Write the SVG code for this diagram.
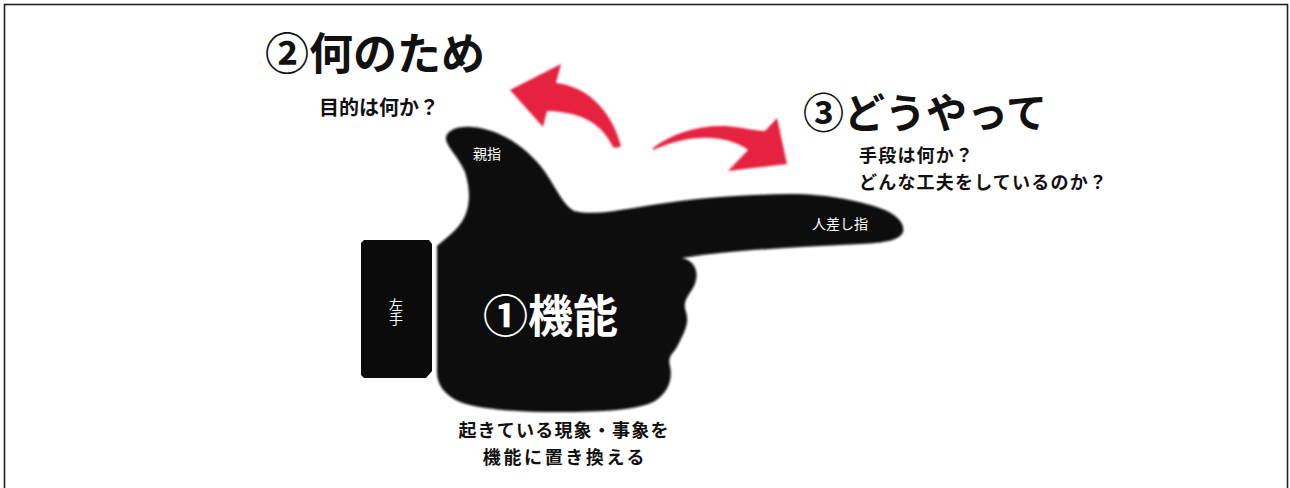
<svg xmlns="http://www.w3.org/2000/svg" width="1290" height="488" viewBox="0 0 1290 488">
  <style>
    .jp { font-family: "Noto Sans CJK JP", "Noto Sans", sans-serif; font-weight: 700; }
    .title { fill: #111; }
    .sub { font-size: 20px; fill: #111; }
    .small { font-size: 18px; letter-spacing: 1.2px; fill: #111; }
    .tag { font-size: 14px; font-weight: 400; fill: #fff; }
    .silhouette { fill: #0b0b0b; }
    .arrow { fill: #e6233f; }
  </style>
  <defs>
    <filter id="soft" x="-5%" y="-5%" width="110%" height="110%">
      <feGaussianBlur stdDeviation="0.9"/>
    </filter>
    <filter id="softer" x="-10%" y="-10%" width="120%" height="120%">
      <feGaussianBlur stdDeviation="1.2"/>
    </filter>
  </defs>

  <rect x="0" y="0" width="1290" height="488" fill="#fff"/>
  <!-- frame -->
  <rect x="4.5" y="4.5" width="1283" height="500" fill="none" stroke="#222" stroke-width="1.6"/>

  <!-- left hand block -->
  <g id="left-hand">
    <path class="silhouette" d="M364,240 L429,240 L432,244 L432,371 L426,378 L364,378 L361,375 L361,243 Z"/>
    <text class="jp tag" x="396" y="298" writing-mode="tb" style="writing-mode: vertical-rl">左手</text>
  </g>

  <!-- pointing hand: palm, thumb and index finger -->
  <g id="hand">
    <path class="silhouette" filter="url(#soft)" d="M437,246
      C446,238 458,230 464,218 C471,204 470,188 465,172 C459,158 448,148 446,140
      C445,131 456,126 472,127 C500,129 528,148 545,172 C556,188 563,205 574,211
      C590,215 610,212 640,207 C680,200 730,195 790,194 C830,194 865,202 885,210
      C898,216 905,224 903,232 C900,240 885,243 860,244 C800,247 730,250 682,258
      C695,261 700,272 694,286 C689,296 682,300 686,312 C690,324 683,334 678,345
      C674,353 667,356 670,366 C673,379 668,393 655,401 C640,410 600,412 560,412
      C520,412 482,410 460,402 C444,395 437,384 437,372 Z"/>
    <text class="jp" x="483" y="333" font-size="45" fill="#fff">①機能</text>
    <text class="jp tag" x="473" y="159">親指</text>
    <text class="jp tag" x="812" y="229" font-size="13.5">人差し指</text>
  </g>

  <!-- curved arrows -->
  <g id="connectors">
    <path class="arrow" filter="url(#softer)" d="M510,90 L561,64 L556,83 C585,86 611,108 621,146 C618,148 615,148 613,147 C603,126 585,112 547,111 L543,127 Z"/>
    <path class="arrow" filter="url(#softer)" d="M653,148 C672,133 700,125 725,126 C742,127 755,131 765,131 L777,118 L787,164 L728,171 L748,150 C736,141 718,137 700,138 C680,139 665,145 653,150 Z"/>
  </g>

  <!-- purpose label -->
  <g id="purpose">
    <text class="jp title" x="265" y="70" font-size="44">②何のため</text>
    <text class="jp sub" x="319" y="115" font-size="21">目的は何か？</text>
  </g>

  <!-- method label -->
  <g id="method">
    <text class="jp small"><tspan x="859" y="162">手段は何か？</tspan><tspan x="859" y="188.5">どんな工夫をしているのか？</tspan></text>
  </g>
  <g id="method-title">
    <text class="jp title" x="803" y="128" font-size="41">③どうやって</text>
  </g>

  <!-- function caption -->
  <g id="function-caption">
    <text class="jp small" text-anchor="middle"><tspan x="564" y="437">起きている現象・事象を</tspan><tspan x="565" y="463.5" letter-spacing="2.6">機能に置き換える</tspan></text>
  </g>
</svg>
